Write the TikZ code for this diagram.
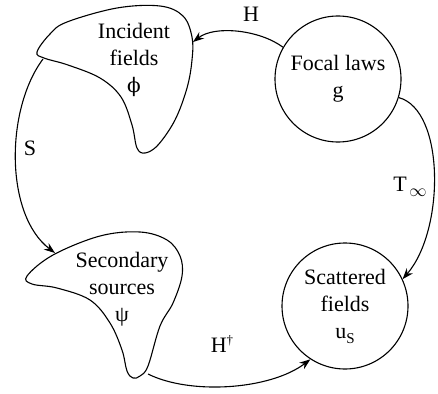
\documentclass[tikz,border=0pt]{standalone}
\usepackage{fontspec}
\setmainfont{Liberation Serif}
\newfontfamily\greekalt{DejaVu Serif}
\usetikzlibrary{arrows.meta}
\tikzset{
  every picture/.style={x=1pt,y=-1pt},
  outline/.style={line width=1.1pt},
  conn/.style={line width=1.1pt,-{Stealth[length=11pt,width=8pt]}},
  round/.style={circle,draw,line width=1.1pt,minimum size=126pt,inner sep=0pt,align=center},
  txt/.style={align=center,inner sep=0pt},
  lbl/.style={inner sep=0pt},
}
\begin{document}
\begin{tikzpicture}[x=1pt,y=-1pt,font=\fontsize{22}{27}\selectfont]
\useasboundingbox (0,0) rectangle (438,393);
% incident blob
\draw[outline] plot[smooth cycle,tension=0.6] coordinates {(37,52) (50,34) (67,22) (117,8) (160,6) (183,16) (192,37) (192,60) (187,88) (175,120) (158,145) (145,153) (137,148) (132,125) (121,97) (100,78) (68,65) (44,58)};
% secondary blob
\draw[outline] plot[smooth cycle,tension=0.6] coordinates {(27,276) (53,255) (100,236) (140,232) (167,240) (180,256) (182,276) (173,303) (160,326) (148,366) (140,376) (133,378) (127,371) (122,350) (110,323) (90,300) (57,288) (32,284)};
\coordinate (incR) at (193,42);
\coordinate (incBL) at (43,59);
\coordinate (secT) at (55,253);
\coordinate (secB) at (148,374);
\node[txt] (inc) at (134,60) {Incident\\fields\\{\greekalt\fontsize{20}{27}\selectfont ϕ}};
\node[txt] (sec) at (122,289) {Secondary\\sources\\ψ};
\node[round] (focal) at (338,79) {Focal laws\\g};
\node[round] (scat) at (345,306) {Scattered\\fields\\u\raisebox{-5pt}{\fontsize{15}{15}\selectfont S}};
% connectors
\draw[conn] (focal.150) .. controls (260,30) and (215,25) .. (incR);
\draw[conn] (incBL) .. controls (5,110) and (5,215) .. (secT);
\draw[conn] (secB) .. controls (190,395) and (270,390) .. (scat.-123);
\draw[conn] (focal.-17) .. controls (445,110) and (445,230) .. (scat.25);
% labels
\node[lbl] (lH) at (251,14) {H};
\node[lbl] (lS) at (30,148) {S};
\node[lbl] (lT) at (410,187) {T\raisebox{-5pt}{\fontsize{16}{16}\selectfont\,$\infty$}};
\node[lbl] (lHd) at (222,344) {H\raisebox{8pt}{\fontsize{13}{13}\selectfont †}};
\end{tikzpicture}
\end{document}
